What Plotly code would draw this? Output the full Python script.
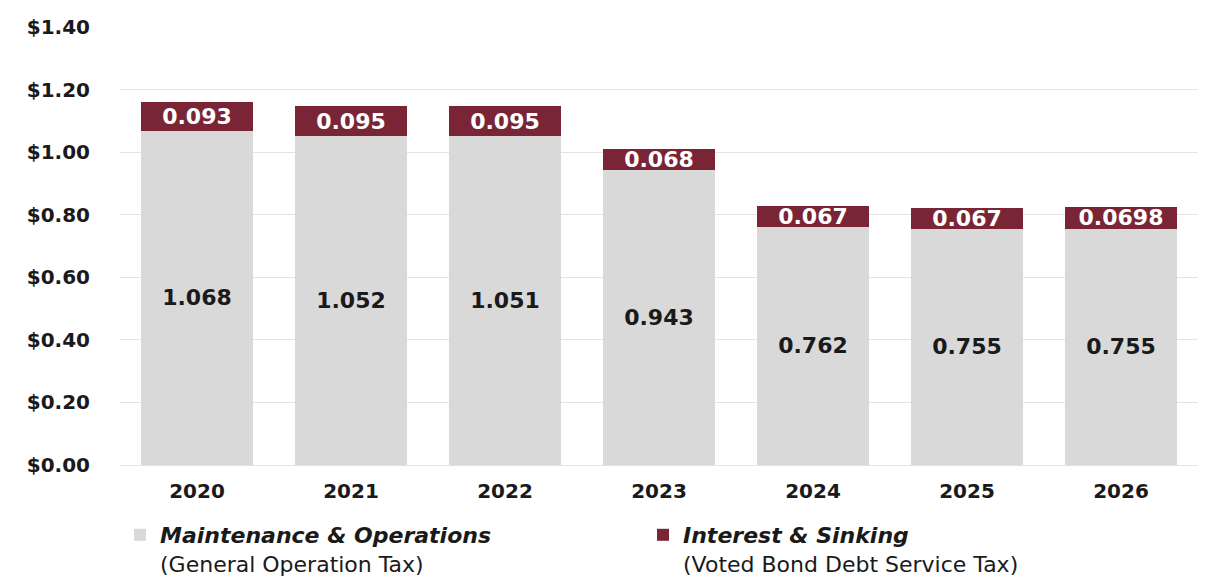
import plotly.graph_objects as go

years = ["2020", "2021", "2022", "2023", "2024", "2025", "2026"]
mo_values = [1.068, 1.052, 1.051, 0.943, 0.762, 0.755, 0.755]
is_values = [0.093, 0.095, 0.095, 0.068, 0.067, 0.067, 0.0698]
mo_labels = ["1.068", "1.052", "1.051", "0.943", "0.762", "0.755", "0.755"]
is_labels = ["0.093", "0.095", "0.095", "0.068", "0.067", "0.067", "0.0698"]
y_ticks = [0, 0.2, 0.4, 0.6, 0.8, 1.0, 1.2, 1.4]
y_tick_text = ["$0.00", "$0.20", "$0.40", "$0.60", "$0.80", "$1.00", "$1.20", "$1.40"]

GRAY = "#D9D9D9"
MAROON = "#7A2535"
BOLD_FONT = "DejaVu Sans"

fig = go.Figure()
fig.add_trace(go.Bar(
    x=years, y=mo_values, text=mo_labels,
    name="<b><i>Maintenance &amp; Operations</i></b><br>(General Operation Tax)",
    marker=dict(color=GRAY, line=dict(width=0)),
    textposition="inside", insidetextanchor="middle", constraintext="none",
    textfont=dict(family=BOLD_FONT, size=22, color="#1a1a1a", weight="bold"),
))
fig.add_trace(go.Bar(
    x=years, y=is_values, text=is_labels,
    name="<b><i>Interest &amp; Sinking</i></b><br>(Voted Bond Debt Service Tax)",
    marker=dict(color=MAROON, line=dict(width=0)),
    textposition="inside", insidetextanchor="middle", constraintext="none",
    textfont=dict(family=BOLD_FONT, size=22, color="white", weight="bold"),
))

fig.update_layout(
    width=1211, height=581,
    barmode="stack", bargap=0.27,
    plot_bgcolor="white", paper_bgcolor="white",
    margin=dict(l=112, r=21, t=19, b=124, autoexpand=False),
    showlegend=True,
    legend=dict(
        orientation="h", xref="container", yref="container",
        x=0.0925, xanchor="left", y=0.1291, yanchor="top",
        font=dict(family="DejaVu Sans", size=22, color="#1a1a1a"),
        entrywidth=478, valign="top", traceorder="normal",
    ),
    uniformtext=dict(mode=False),
)
fig.update_xaxes(
    type="category", showgrid=False, showline=False, ticks="", automargin=False,
    ticklabelstandoff=12,
    tickfont=dict(family=BOLD_FONT, size=20, color="#1a1a1a", weight="bold"),
)
fig.update_yaxes(
    range=[0, 1.4], tickvals=y_ticks, ticktext=y_tick_text, automargin=False,
    showgrid=True, gridcolor="#E3E3E3", gridwidth=1,
    zeroline=True, zerolinecolor="#E3E3E3", zerolinewidth=1,
    showline=False, ticks="", ticklabelstandoff=29,
    tickfont=dict(family=BOLD_FONT, size=20, color="#1a1a1a", weight="bold"),
)

fig.write_html("out.html")
